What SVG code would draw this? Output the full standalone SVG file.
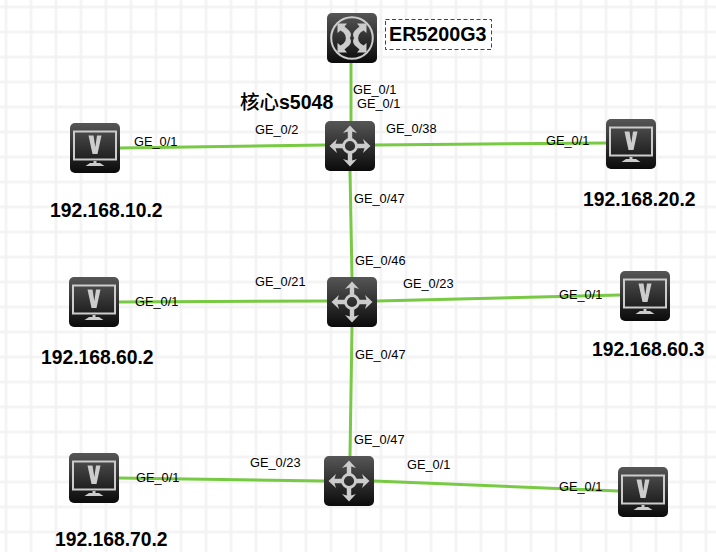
<svg xmlns="http://www.w3.org/2000/svg" width="716" height="552" viewBox="0 0 716 552">
<defs>
<pattern id="grid" width="25" height="25" patternUnits="userSpaceOnUse" x="-6.500" y="-5.500"><path d="M12.500 0V25M0 12.500H25" fill="none" stroke="#f2f2f2" stroke-width="2.500"/></pattern>
<linearGradient id="dark" x1="0" y1="0" x2="0" y2="1"><stop offset="0" stop-color="#565656"/><stop offset="1" stop-color="#0b0b0b"/></linearGradient>
<g id="arrow"><path d="M0 -20.500L-7 -13L-2.200 -14.500V-7H2.200V-14.500L7 -13Z"/></g>
<g id="arm"><path d="M-14.500 -14.500H-5L-7.500 -11.500L-3 -7.500Q0.500 -3.500 -2.500 0.500L-6 0.500Q-6 -3 -8.500 -5.500L-11.500 -7.500L-14.500 -5Z"/></g>
<g id="pc">
<rect x="-25" y="-25" width="50" height="50" rx="5" fill="url(#dark)"/>
<path d="M-21 -16.500H21V11.500H-21Z" fill="none" stroke="#ccc" stroke-width="2"/>
<path d="M-6.500 -12.500H-1.500L0.300 -1L2 -12.500H6.500L2.500 6H-2.500Z" fill="#ccc"/>
<path d="M-1.500 13H1.500V15H-1.500ZM-5 15H5L9.500 18H-9.500Z" fill="#ccc"/>
</g>
<g id="sw">
<rect x="-25" y="-25" width="50" height="50" rx="5" fill="url(#dark)"/>
<circle r="6.500" fill="none" stroke="#ccc" stroke-width="2.800"/>
<g fill="#ccc"><use href="#arrow"/><use href="#arrow" transform="rotate(90)"/><use href="#arrow" transform="rotate(180)"/><use href="#arrow" transform="rotate(270)"/></g>
</g>
</defs>
<style>
.l{font:12.800px "Liberation Sans",Arial,sans-serif;fill:#000}
.b{font:bold 19.300px "Liberation Sans",Arial,sans-serif;fill:#000}
.c{fill:none;stroke:#78c944;stroke-width:3}
</style>
<rect width="716" height="552" fill="#fff"/>
<rect width="716" height="552" fill="url(#grid)"/>
<g id="connectors">
<path class="c" d="M351 63V121"/>
<path class="c" d="M120 148L325 145"/>
<path class="c" d="M375 145L606 143"/>
<path class="c" d="M350 171L352 277"/>
<path class="c" d="M119 302L327 301"/>
<path class="c" d="M377 301L620 295"/>
<path class="c" d="M352 327L350 456"/>
<path class="c" d="M119 478L324 481"/>
<path class="c" d="M374 481L618 491"/>
</g>
<g id="router"><rect x="327" y="13" width="50" height="50" rx="5" fill="url(#dark)"/>
<g transform="translate(352 38)"><circle r="20.800" fill="none" stroke="#ccc" stroke-width="2"/>
<g fill="#ccc"><use href="#arm"/><use href="#arm" transform="scale(-1 1)"/><use href="#arm" transform="scale(1 -1)"/><use href="#arm" transform="scale(-1 -1)"/></g></g></g>
<g id="er-label"><rect x="385.500" y="19.500" width="106" height="30" fill="#fff" stroke="#444" stroke-dasharray="4 2.500"/><text class="b" x="389" y="41" style="font-size:19.700px">ER5200G3</text></g>
<g id="core"><use href="#sw" x="350" y="146"/><text x="240" y="109" style="font:bold 19.500px 'Liberation Sans',sans-serif"><tspan style="font:500 19.500px 'Noto Sans CJK SC',serif">核心</tspan>s5048</text></g>
<g id="sw2"><use href="#sw" x="352" y="302"/></g>
<g id="sw3"><use href="#sw" x="349" y="481"/></g>
<g id="pc1"><use href="#pc" x="95" y="148"/><text class="b" x="50" y="217">192.168.10.2</text></g>
<g id="pc2"><use href="#pc" x="631" y="144"/><text class="b" x="583" y="206">192.168.20.2</text></g>
<g id="pc3"><use href="#pc" x="94" y="302"/><text class="b" x="41" y="364">192.168.60.2</text></g>
<g id="pc4"><use href="#pc" x="645" y="296"/><text class="b" x="592" y="356">192.168.60.3</text></g>
<g id="pc5"><use href="#pc" x="94" y="478"/><text class="b" x="55" y="546">192.168.70.2</text></g>
<g id="pc6"><use href="#pc" x="643" y="492"/></g>
<g id="labels">
<text class="l" x="353" y="94">GE_0/1</text><text class="l" x="357" y="108">GE_0/1</text>
<text class="l" x="134" y="146">GE_0/1</text><text class="l" x="255" y="134">GE_0/2</text>
<text class="l" x="386" y="133">GE_0/38</text><text class="l" x="546" y="145">GE_0/1</text>
<text class="l" x="354" y="203">GE_0/47</text><text class="l" x="355" y="265">GE_0/46</text>
<text class="l" x="135" y="306">GE_0/1</text><text class="l" x="255" y="286">GE_0/21</text>
<text class="l" x="403" y="288">GE_0/23</text><text class="l" x="559" y="299">GE_0/1</text>
<text class="l" x="355" y="359">GE_0/47</text><text class="l" x="354" y="444">GE_0/47</text>
<text class="l" x="136" y="482">GE_0/1</text><text class="l" x="250" y="467">GE_0/23</text>
<text class="l" x="407" y="469">GE_0/1</text><text class="l" x="559" y="491">GE_0/1</text>
</g>
</svg>
